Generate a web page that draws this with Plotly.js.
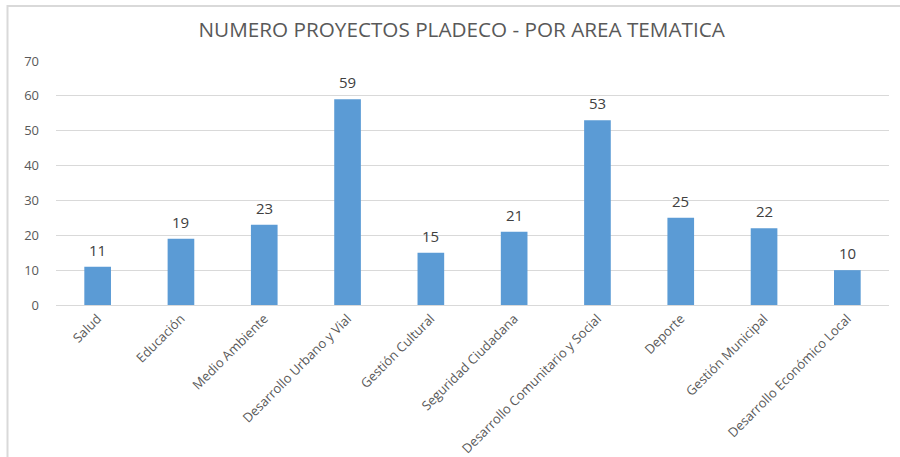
<!DOCTYPE html>
<html>
<head>
<meta charset="utf-8">
<script src="https://cdn.plot.ly/plotly-3.0.1.min.js"></script>
<style>html,body{margin:0;padding:0;background:#fff;}#chart{width:900px;height:457px;}</style>
</head>
<body>
<div id="chart"></div>
<script>
const categories = ["Salud", "Educación", "Medio Ambiente", "Desarrollo Urbano y Vial", "Gestión Cultural", "Seguridad Ciudadana", "Desarrollo Comunitario y Social", "Deporte", "Gestión Municipal", "Desarrollo Económico Local"];
const values = [11, 19, 23, 59, 15, 21, 53, 25, 22, 10];
const yTicks = [0, 10, 20, 30, 40, 50, 60, 70];
const titleText = "NUMERO PROYECTOS PLADECO - POR AREA TEMATICA";

const font = "Open Sans, Liberation Sans, sans-serif";
const trace = {
  type: "bar",
  x: categories,
  y: values,
  marker: {color: "#5B9BD5"},
  hoverinfo: "x+y"
};
const annotations = categories.map((c, i) => ({
  x: c, y: values[i], xref: "x", yref: "y",
  text: String(values[i]), showarrow: false,
  yanchor: "bottom", yshift: 5,
  font: {family: font, size: 15, color: "#404040"}
}));
const W = 900, H = 457, L = 56, R = 11, T = 61, B = 152;
const pw = W - L - R, ph = H - T - B;
const layout = {
  width: W, height: H,
  margin: {l: L, r: R, t: T, b: B},
  paper_bgcolor: "#fff", plot_bgcolor: "#fff",
  bargap: 0.68,
  showlegend: false,
  title: {text: titleText, font: {family: font, size: 20.7, color: "#595959"}, x: 0.513, xanchor: "center", y: 1 - 30/H, yanchor: "middle"},
  xaxis: {
    tickangle: -45, tickfont: {family: font, size: 13, color: "#595959"},
    showgrid: false, zeroline: false, showline: true, linecolor: "#d9d9d9", linewidth: 1,
    ticks: "", fixedrange: true
  },
  yaxis: {
    range: [0, 70], tickvals: yTicks, ticktext: yTicks.map(String),
    tickfont: {family: font, size: 13, color: "#595959"},
    showgrid: true, gridcolor: "#d9d9d9", gridwidth: 1, zeroline: false, showline: false,
    ticks: "", ticklabelstandoff: 16, fixedrange: true
  },
  annotations: annotations,
  shapes: [{
    type: "rect", xref: "paper", yref: "paper",
    x0: (7.5 - L)/pw, x1: (905 - L)/pw,
    y0: -(H + 5 - T - ph)/ph, y1: 1 + (T - 6)/ph,
    line: {color: "#d9d9d9", width: 2}, fillcolor: "rgba(0,0,0,0)", layer: "below"
  }]
};
Plotly.newPlot("chart", [trace], layout, {displayModeBar: false, staticPlot: true});
</script>
</body>
</html>
